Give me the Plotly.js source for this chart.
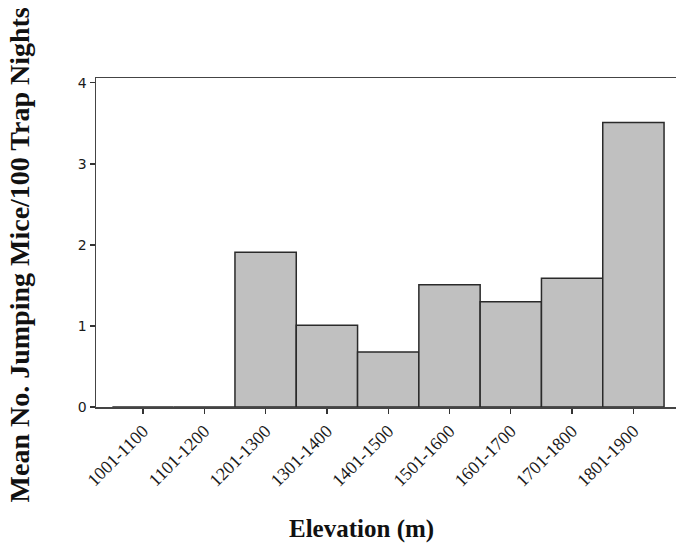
<!DOCTYPE html>
<html>
<head>
<meta charset="utf-8">
<script src="https://cdn.plot.ly/plotly-3.0.1.min.js"></script>
<style>html,body{margin:0;padding:0;background:#fff;}#chart{width:676px;height:544px;}</style>
</head>
<body>
<div id="chart"></div>
<script>
const elevationBands = ["1001-1100","1101-1200","1201-1300","1301-1400","1401-1500","1501-1600","1601-1700","1701-1800","1801-1900"];
const meanMice = [0, 0, 1.91, 1.01, 0.68, 1.51, 1.3, 1.59, 3.51];
const yTickValues = [0, 1, 2, 3, 4];
const xTitle = 'Elevation (m)';
const yTitle = 'Mean No. Jumping Mice/100 Trap Nights';

const serif = 'Liberation Serif, Times New Roman, serif';

const trace = {
  type: 'bar',
  x: elevationBands,
  y: meanMice,
  marker: {color: '#c0c0c0', line: {color: '#2a2a2a', width: 1.5}},
  hoverinfo: 'x+y'
};

const layout = {
  width: 676, height: 544,
  margin: {l: 96, r: 0, t: 78, b: 137},
  paper_bgcolor: '#fff', plot_bgcolor: '#fff',
  bargap: 0,
  showlegend: false,
  xaxis: {
    type: 'category',
    range: [-0.767, 8.695],
    showline: true, linecolor: '#444', linewidth: 1.5, mirror: true,
    showgrid: false, zeroline: false,
    ticks: 'outside', ticklen: 5, tickcolor: '#333', tickwidth: 1.2,
    tickangle: -45,
    tickfont: {family: serif, size: 18, color: '#1a1a1a'},
    automargin: false
  },
  yaxis: {
    range: [0, 4.06],
    tickvals: yTickValues,
    showline: true, linecolor: '#444', linewidth: 1.5, mirror: false,
    showgrid: false, zeroline: false,
    ticks: 'outside', ticklen: 5, tickcolor: '#333', tickwidth: 1.2,
    tickfont: {family: 'DejaVu Sans, Verdana, sans-serif', size: 14, color: '#1a1a1a'},
    automargin: false
  },
  annotations: [
    {text: '<b>' + xTitle + '</b>', xref: 'paper', yref: 'paper', x: 0.457, y: -0.372,
     xanchor: 'center', yanchor: 'middle', showarrow: false,
     font: {family: serif, size: 25, color: '#111'}},
    {text: '<b>' + yTitle + '</b>', xref: 'paper', yref: 'paper', x: -0.132, y: 0.462,
     xanchor: 'center', yanchor: 'middle', showarrow: false, textangle: -90,
     font: {family: serif, size: 28, color: '#111'}}
  ]
};

Plotly.newPlot('chart', [trace], layout, {displayModeBar: false, staticPlot: true});
</script>
</body>
</html>
